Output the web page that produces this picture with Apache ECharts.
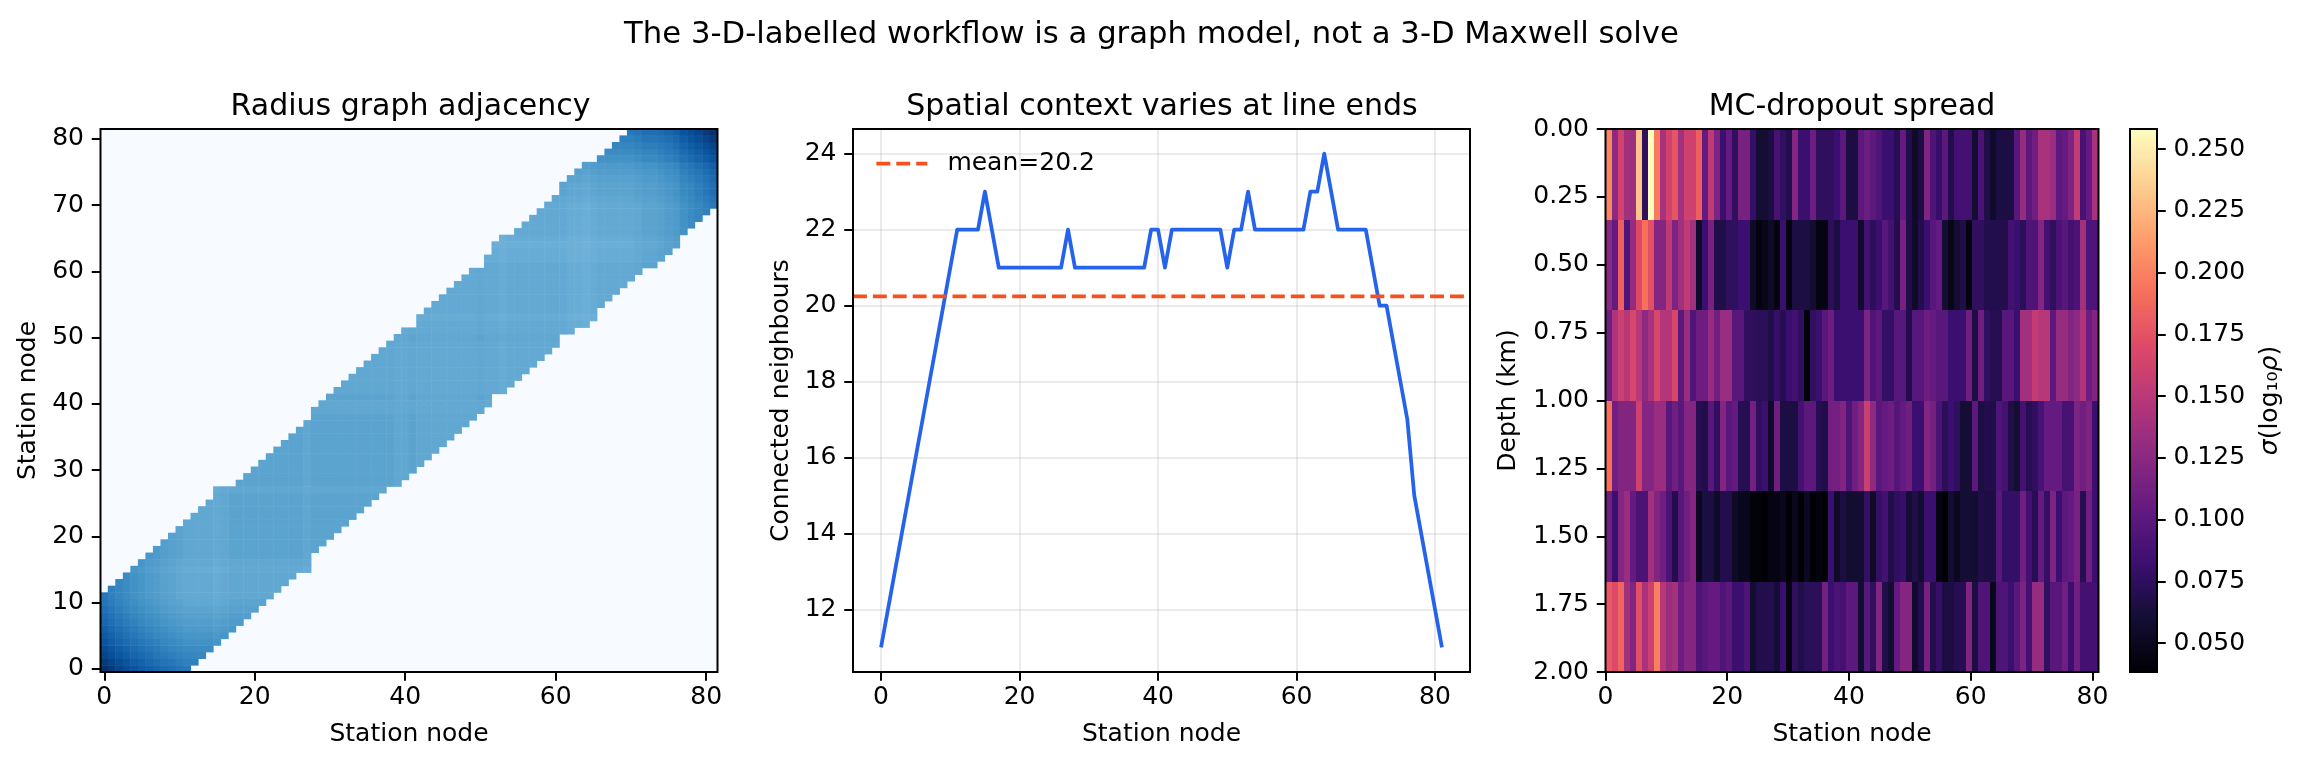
<!DOCTYPE html>
<html>
<head>
<meta charset="utf-8">
<style>html,body{margin:0;padding:0;background:#fff}#c{width:2301px;height:765px}</style>
<script src="https://cdn.jsdelivr.net/npm/echarts@6/dist/echarts.min.js"></script>
</head>
<body>
<div id="c"></div>
<script>
// Connected neighbours per station node
const neighbours = [11,12,13,14,15,16,17,18,19,20,21,22,22,22,22,23,22,21,21,21,21,21,21,21,21,21,21,22,21,21,21,21,21,21,21,21,21,21,21,22,22,21,22,22,22,22,22,22,22,22,21,22,22,23,22,22,22,22,22,22,22,22,23,23,24,23,22,22,22,22,22,21,20,20,19,18,17,15,14,13,12,11];
const bandLow = [0,0,0,0,0,0,0,0,0,0,0,0,1,2,3,4,5,6,7,8,9,10,11,12,13,14,15,15,18,19,20,21,22,23,24,25,26,27,28,28,29,30,31,32,33,34,35,36,37,38,39,40,42,42,43,44,45,46,47,48,49,51,51,52,52,53,55,56,57,58,59,60,61,61,62,63,64,66,67,68,69,70];
const bandHigh = [11,12,13,14,15,16,17,18,19,20,21,22,23,24,25,27,27,27,28,29,30,31,32,33,34,35,36,37,39,40,41,42,43,44,45,46,47,48,49,50,51,51,53,54,55,56,57,58,59,60,60,62,64,65,65,66,67,68,69,70,71,73,74,75,76,76,77,78,79,80,81,81,81,81,81,81,81,81,81,81,81,81];
const meanNeighbours = 20.24;
const meanLabel = 'mean=20.2';
const spread0 = [.203,.126,.163,.137,.135,.232,.076,.258,.197,.141,.163,.177,.137,.161,.161,.183,.104,.153,.118,.082,.104,.076,.115,.115,.078,.060,.060,.065,.089,.076,.069,.122,.082,.082,.109,.076,.076,.076,.082,.100,.065,.065,.100,.109,.100,.093,.082,.082,.071,.104,.069,.054,.065,.120,.093,.080,.100,.069,.087,.087,.087,.058,.091,.067,.056,.065,.065,.065,.098,.131,.100,.111,.141,.141,.133,.100,.104,.118,.155,.089,.104,.141];
const spread1 = [.126,.104,.183,.093,.131,.170,.192,.174,.122,.122,.153,.118,.137,.153,.137,.056,.082,.115,.067,.067,.076,.076,.082,.082,.054,.043,.047,.054,.043,.082,.043,.065,.065,.065,.058,.045,.045,.073,.065,.082,.082,.082,.056,.087,.073,.082,.098,.087,.069,.115,.067,.054,.069,.082,.098,.104,.060,.047,.058,.067,.043,.076,.076,.069,.069,.069,.069,.087,.082,.073,.093,.093,.122,.087,.076,.091,.098,.087,.091,.137,.093,.093];
const spread2 = [.111,.144,.159,.148,.166,.148,.126,.141,.166,.146,.146,.166,.100,.133,.093,.109,.109,.131,.111,.133,.133,.098,.098,.076,.076,.073,.073,.067,.080,.071,.082,.087,.076,.041,.076,.082,.098,.109,.082,.082,.082,.082,.082,.118,.093,.100,.078,.078,.098,.098,.069,.098,.098,.109,.104,.098,.098,.082,.082,.082,.111,.065,.111,.076,.071,.071,.098,.098,.082,.137,.137,.155,.148,.148,.100,.131,.131,.120,.126,.144,.109,.120];
const spread3 = [.192,.111,.120,.120,.120,.161,.122,.122,.133,.133,.098,.111,.098,.122,.122,.071,.067,.098,.076,.122,.098,.104,.071,.071,.113,.076,.082,.056,.111,.065,.065,.065,.087,.100,.100,.071,.067,.113,.113,.120,.093,.111,.122,.159,.128,.098,.104,.109,.096,.104,.111,.082,.082,.122,.113,.091,.073,.082,.076,.060,.060,.100,.065,.069,.067,.093,.087,.067,.060,.087,.071,.076,.089,.104,.104,.104,.089,.089,.118,.111,.118,.082];
const spread4 = [.111,.082,.122,.133,.104,.091,.091,.137,.120,.111,.091,.069,.098,.111,.122,.051,.065,.065,.054,.069,.069,.054,.049,.049,.041,.041,.039,.045,.045,.049,.039,.049,.039,.051,.039,.043,.039,.082,.054,.065,.058,.058,.058,.078,.054,.078,.087,.067,.076,.080,.060,.067,.058,.082,.082,.045,.039,.058,.051,.060,.060,.058,.067,.065,.065,.098,.078,.078,.078,.111,.087,.071,.104,.078,.118,.082,.100,.104,.115,.071,.111,.082];
const spread5 = [.179,.170,.186,.137,.120,.174,.141,.159,.199,.148,.133,.139,.109,.122,.122,.093,.098,.104,.104,.093,.100,.082,.082,.093,.058,.069,.069,.069,.060,.082,.045,.076,.067,.073,.073,.073,.113,.082,.091,.087,.100,.100,.058,.098,.076,.122,.067,.058,.104,.122,.122,.056,.069,.115,.069,.080,.065,.065,.071,.071,.120,.065,.093,.093,.049,.093,.093,.082,.098,.118,.087,.131,.131,.076,.098,.098,.111,.082,.111,.087,.087,.087];
const spreadRows = [spread0,spread1,spread2,spread3,spread4,spread5];
// Axis ticks and ranges
const stationTicks = [0,20,40,60,80];
const neighbourTicks = [12,14,16,18,20,22,24];
const depthTicks = [0,0.25,0.5,0.75,1,1.25,1.5,1.75,2];
const spreadTicks = [0.05,0.075,0.1,0.125,0.15,0.175,0.2,0.225,0.25];
const vMin = 0.0383, vMax = 0.2581;
const depthMax = 2, stationExtent = 81;

const BLUES = ['#f7fbff','#deebf7','#c6dbef','#9ecae1','#6baed6','#4292c6','#2171b5','#08519c','#08306b'];
const MAGMA = ['#000004','#140e36','#3b0f70','#641a80','#8c2981','#b73779','#de4968','#f7705c','#fe9f6d','#fecf92','#fcfdbf'];
function hex(h){return [1,3,5].map(i=>parseInt(h.substr(i,2),16));}
function magma(v){
  const t=Math.max(0,Math.min(1,(v-vMin)/(vMax-vMin)))*(MAGMA.length-1);
  const i=Math.min(MAGMA.length-2,Math.floor(t)),f=t-i,a=hex(MAGMA[i]),b=hex(MAGMA[i+1]);
  return 'rgb('+a.map((x,k)=>Math.round(x+(b[k]-x)*f)).join(',')+')';
}
const FONT='"DejaVu Sans"';
const nodes=neighbours.map((_,i)=>String(i));
const adj=[];
neighbours.forEach((d,i)=>{for(let j=bandLow[i];j<=bandHigh[i];j++){adj.push([j,i,1/Math.sqrt((d+1)*(neighbours[j]+1))]);}});
const adjMax=1/(neighbours[0]+1);
const spreadCells=[];
spreadRows.forEach((row,r)=>row.forEach((v,c)=>spreadCells.push([c,r,v])));
const nCols=spread0.length,nRows=spreadRows.length;
const cbLevels=[];for(let k=0;k<256;k++)cbLevels.push(k);

const G=[
 {left:100.5,top:129,width:617,height:543},
 {left:853,top:129,width:617,height:543},
 {left:1605.5,top:129,width:493,height:543},
 {left:2130,top:129,width:27,height:543}
];
const tickStyle={show:true,length:8.75,lineStyle:{color:'#000',width:2}};
const lab={color:'#000',fontFamily:FONT,fontSize:25,margin:16.5};
const xLab={color:'#000',fontFamily:FONT,fontSize:25,margin:13};
const nameTs={color:'#000',fontFamily:FONT,fontSize:25};
const noLine={show:false,onZero:false};
function valAxis(grid,min,max,ticks,extra){
  return Object.assign({type:'value',gridIndex:grid,min,max,axisLine:noLine,splitLine:{show:false},
    axisTick:Object.assign({customValues:ticks},tickStyle),
    axisLabel:Object.assign({customValues:ticks},lab),nameTextStyle:nameTs,nameLocation:'middle'},extra);
}
const titleAt=(text,cx,top,size)=>({text,left:cx,top,textAlign:'center',textStyle:{color:'#000',fontFamily:FONT,fontSize:size,fontWeight:'normal'}});
const frame=g=>({type:'rect',z:100,silent:true,shape:{x:g.left,y:g.top,width:g.width,height:g.height},style:{fill:'none',stroke:'#000',lineWidth:2}});
function rectItem(p0,p1,fill){
  const x0=Math.round(p0[0]),x1=Math.round(p1[0]),y0=Math.round(Math.min(p0[1],p1[1])),y1=Math.round(Math.max(p0[1],p1[1]));
  return {type:'rect',shape:{x:x0,y:y0,width:x1-x0,height:y1-y0},style:{fill}};
}
const option={
  animation:false,backgroundColor:'#fff',
  textStyle:{fontFamily:FONT},
  title:[
    titleAt('The 3-D-labelled workflow is a graph model, not a 3-D Maxwell solve',1146.5,15,30.7),
    titleAt('Radius graph adjacency',405.5,87,30),
    titleAt('Spatial context varies at line ends',1157,87,30),
    titleAt('MC-dropout spread',1847,87,30)
  ],
  grid:[
    Object.assign({show:true,backgroundColor:'#f7fbff',borderWidth:0},G[0]),
    Object.assign({show:false},G[1]),
    Object.assign({show:false},G[2]),
    Object.assign({show:false},G[3])
  ],
  xAxis:[
    {type:'category',gridIndex:0,data:nodes,boundaryGap:true,axisLine:noLine,splitLine:{show:false},splitArea:{show:false},
     axisTick:Object.assign({interval:19,alignWithLabel:true},tickStyle),
     axisLabel:Object.assign({interval:19},xLab),name:'Station node',nameLocation:'middle',nameGap:50,nameTextStyle:nameTs},
    valAxis(1,-4.05,85.05,stationTicks,{name:'Station node',nameGap:50,axisLabel:Object.assign({customValues:stationTicks},xLab),splitLine:{show:true,lineStyle:{color:'rgba(176,176,176,0.25)',width:2}}}),
    valAxis(2,0,stationExtent,stationTicks,{name:'Station node',nameGap:50,axisLabel:Object.assign({customValues:stationTicks},xLab)}),
    {type:'value',gridIndex:3,min:0,max:1,show:false}
  ],
  yAxis:[
    {type:'category',gridIndex:0,data:nodes,boundaryGap:true,axisLine:noLine,splitLine:{show:false},splitArea:{show:false},
     axisTick:Object.assign({interval:9,alignWithLabel:true},tickStyle),
     axisLabel:Object.assign({interval:9},lab),name:'Station node',nameLocation:'middle',nameGap:59.5,nameTextStyle:nameTs},
    valAxis(1,10.35,24.65,neighbourTicks,{name:'Connected neighbours',nameGap:59.5,splitLine:{show:true,lineStyle:{color:'rgba(176,176,176,0.25)',width:2}}}),
    valAxis(2,0,depthMax,depthTicks,{inverse:true,name:'Depth (km)',nameGap:85,axisLabel:Object.assign({customValues:depthTicks,formatter:v=>v.toFixed(2)},lab)}),
    valAxis(3,vMin,vMax,spreadTicks,{position:'right',name:'{i|σ}(log₁₀{i|ρ})',nameRotate:90,nameGap:101,
      nameTextStyle:Object.assign({rich:{i:{fontFamily:FONT,fontSize:25,fontStyle:'italic',color:'#000'}}},nameTs),
      axisLabel:Object.assign({customValues:spreadTicks,formatter:v=>v.toFixed(3)},lab)})
  ],
  visualMap:[{show:false,seriesIndex:0,min:0,max:adjMax,inRange:{color:BLUES}}],
  legend:{data:[meanLabel],left:869.5,top:146,itemWidth:51,itemHeight:20,padding:5,itemStyle:{opacity:0},
    lineStyle:{width:3.75,opacity:1,color:'#f4511e',type:[13.9,6],cap:'butt'},
    textStyle:{color:'#000',fontFamily:FONT,fontSize:25,padding:[0,0,0,15]}},
  series:[
    {type:'heatmap',xAxisIndex:0,yAxisIndex:0,data:adj,progressive:0,emphasis:{disabled:true}},
    {type:'line',name:'neighbours',xAxisIndex:1,yAxisIndex:1,data:neighbours.map((d,i)=>[i,d]),showSymbol:false,symbol:'none',z:3,
     lineStyle:{color:'#2563eb',width:3.75,cap:'butt',join:'round'}},
    {type:'line',name:meanLabel,xAxisIndex:1,yAxisIndex:1,data:[[-4.05,meanNeighbours],[85.05,meanNeighbours]],showSymbol:false,symbol:'none',z:4,
     itemStyle:{color:'#f4511e'},lineStyle:{color:'#f4511e',width:3.75,type:[13.9,6],cap:'butt'}},
    {type:'custom',xAxisIndex:2,yAxisIndex:2,data:spreadCells,encode:{x:0,y:1},silent:true,clip:true,
     renderItem(params,api){
       const c=api.value(0),r=api.value(1),v=api.value(2);
       const cw=stationExtent/nCols,rh=depthMax/nRows;
       return rectItem(api.coord([c*cw,r*rh]),api.coord([(c+1)*cw,(r+1)*rh]),magma(v));
     }},
    {type:'custom',xAxisIndex:3,yAxisIndex:3,data:cbLevels.map(k=>[k]),encode:{},silent:true,clip:true,
     renderItem(params,api){
       const k=api.value(0),step=(vMax-vMin)/256;
       return rectItem(api.coord([0,vMin+k*step]),api.coord([1,vMin+(k+1)*step]),magma(vMin+(k+0.5)*step));
     }}
  ],
  graphic:G.map(frame)
};
const chart=echarts.init(document.getElementById('c'),null,{renderer:'canvas',width:2301,height:765});
chart.setOption(option);
</script>
</body>
</html>
